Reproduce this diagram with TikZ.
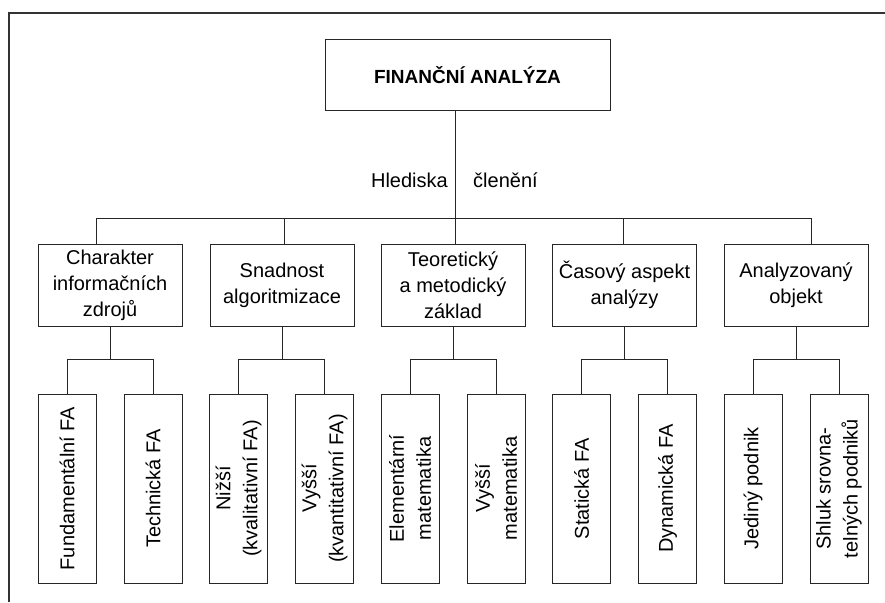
\documentclass[tikz,border=0pt]{standalone}
\usepackage{fontspec}
\setmainfont{Liberation Sans}
\begin{document}
\begin{tikzpicture}[x=1pt,y=-1pt,
  conn/.style={line width=1pt, draw=black!85},
  topbox/.style={draw=black!85, line width=1pt, minimum width=285pt, minimum height=70pt, inner sep=0pt, font=\fontsize{19}{24}\selectfont\bfseries},
  catbox/.style={draw=black!85, line width=1pt, minimum width=144pt, minimum height=82pt, inner sep=0pt, align=center, font=\fontsize{20}{26}\selectfont},
  leafbox/.style={draw=black!85, line width=1pt, minimum width=58pt, minimum height=189pt, inner sep=0pt},
  leaftext/.style={rotate=90, align=center, inner sep=0pt, font=\fontsize{20}{27}\selectfont},
  plain/.style={inner sep=0pt, font=\fontsize{20}{24}\selectfont}]
\useasboundingbox (0,0) rectangle (885,602);
\fill[white] (0,0) rectangle (885,602);
% frame
\draw[line width=1.8pt, black!80] (9,602) -- (9,13) -- (885,13);
% top
\node[topbox] (top) at (467.5,75) {FINANČNÍ ANALÝZA};
\node[plain, anchor=east] (hl) at (448,180) {Hlediska};
\node[plain, anchor=west] (cl) at (473,180) {členění};
% categories
\node[catbox] (c1) at (110,285) {Charakter\\informačních\\zdrojů};
\node[catbox] (c2) at (282,285) {Snadnost\\algoritmizace};
\node[catbox] (c3) at (453,285) {Teoretický\\a metodický\\základ};
\node[catbox] (c4) at (624.5,285) {Časový aspekt\\analýzy};
\node[catbox] (c5) at (796,285) {Analyzovaný\\objekt};
% bus
\coordinate (b1) at (96,218);
\coordinate (b2) at (284,218);
\coordinate (b3) at (455,218);
\coordinate (b4) at (623,218);
\coordinate (b5) at (811,218);
\draw[conn] (top.south -| b3) -- (b3);
\draw[conn] (b1) -- (b5);
\foreach \i in {1,...,5} {\draw[conn] (b\i) -- (b\i |- c\i.north);}
% leaves
\foreach \i/\L in {1/38,2/209.5,3/381,4/552.5,5/724} {
  \node[leafbox] (l\i a) at (\L+29,488.5) {};
  \node[leafbox] (l\i b) at (\L+115,488.5) {};
  \path (c\i.south) ++(0,33) coordinate (s\i);
  \draw[conn] (c\i.south) -- (s\i);
  \draw[conn] (l\i a.north) -- (l\i a.north |- s\i) -- (l\i b.north |- s\i) -- (l\i b.north);
}
\node[leaftext] (t1a) at (l1a) {Fundamentální FA};
\node[leaftext] (t1b) at (l1b) {Technická FA};
\node[leaftext] (t2a) at (l2a) {Nižší\\(kvalitativní FA)};
\node[leaftext] (t2b) at (l2b) {Vyšší\\(kvantitativní FA)};
\node[leaftext] (t3a) at (l3a) {Elementární\\matematika};
\node[leaftext] (t3b) at (l3b) {Vyšší\\matematika};
\node[leaftext] (t4a) at (l4a) {Statická FA};
\node[leaftext] (t4b) at (l4b) {Dynamická FA};
\node[leaftext] (t5a) at (l5a) {Jediný podnik};
\node[leaftext] (t5b) at (l5b) {Shluk srovna-\\telných podniků};
\end{tikzpicture}
\end{document}
